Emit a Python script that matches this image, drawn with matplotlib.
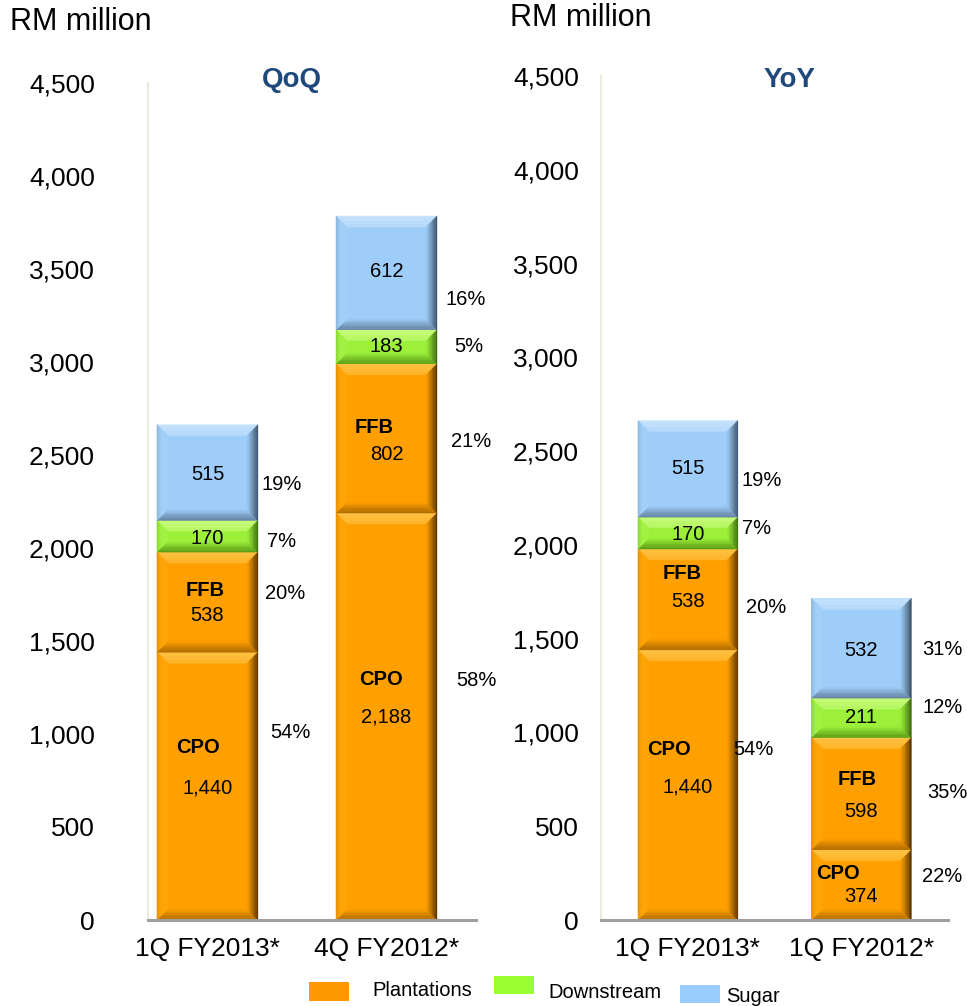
import matplotlib
matplotlib.use("Agg")
import matplotlib.pyplot as plt
from matplotlib.patches import Polygon, Rectangle
from matplotlib.colors import to_rgb
import numpy as np

plt.rcParams['font.family'] = ['Liberation Sans', 'DejaVu Sans']

# ---------------- data ----------------
segments = ["CPO", "FFB", "Downstream", "Sugar"]
qoq_categories = ["1Q FY2013*", "4Q FY2012*"]
qoq_values = {
    "CPO": [1440, 2188],
    "FFB": [538, 802],
    "Downstream": [170, 183],
    "Sugar": [515, 612],
}
qoq_pct = {
    "CPO": ["54%", "58%"],
    "FFB": ["20%", "21%"],
    "Downstream": ["7%", "5%"],
    "Sugar": ["19%", "16%"],
}
yoy_categories = ["1Q FY2013*", "1Q FY2012*"]
yoy_values = {
    "CPO": [1440, 374],
    "FFB": [538, 598],
    "Downstream": [170, 211],
    "Sugar": [515, 532],
}
yoy_pct = {
    "CPO": ["54%", "22%"],
    "FFB": ["20%", "35%"],
    "Downstream": ["7%", "12%"],
    "Sugar": ["19%", "31%"],
}
y_ticks = [0, 500, 1000, 1500, 2000, 2500, 3000, 3500, 4000, 4500]
legend_labels = ["Plantations", "Downstream", "Sugar"]

# ---------------- styles / layout ----------------
colors = {"CPO": "#FFA000", "FFB": "#FFA000", "Downstream": "#9CF03A", "Sugar": "#9DCDF8"}
# (top light, bottom dark, left, right dark)
bevel = {
    "CPO": ("#FFCB55", "#B06C00", "#FFA508", "#4A2C00"),
    "FFB": ("#FFCB55", "#B06C00", "#FFA508", "#4A2C00"),
    "Downstream": ("#D2FF8C", "#5C9C16", "#A2F244", "#36600C"),
    "Sugar": ("#D0E8FF", "#6683A2", "#A2D0F8", "#34485C"),
}
legend_colors = ["#FF9900", "#99FF33", "#99CCFF"]
W, H = 967, 1006
DPI = 100

# pct label offsets (px): dx from bar right edge, dy from segment middle (up +)
pct_off_qoq = {
    "Sugar": [(24, -12), (29, -27)],
    "Downstream": [(24, -5), (32, 0)],
    "FFB": [(27, 9), (34, -3)],
    "CPO": [(33, 54), (39, 36)],
}
pct_off_yoy = {
    "Sugar": [(24, -12), (31, -1)],
    "Downstream": [(19, 5), (31, 10)],
    "FFB": [(28, -8), (36, 1)],
    "CPO": [(16, 35), (31, 8)],
}
# inner label offsets: (value dx, value dy, name dx, name dy)
in_off_qoq = {
    "Sugar": [(0, -2), (0, 1)],
    "Downstream": [(0, -2), (0, 0)],
    "FFB": [(0, -13, -2, 12), (0, -16, -12, 11)],
    "CPO": [(0, -2, -9, 39), (0, 0, -5, 37)],
}
in_off_yoy = {
    "Sugar": [(0, 0), (0, -2)],
    "Downstream": [(0, -1), (0, 0)],
    "FFB": [(0, -2, -6, 26), (0, -18, -4, 14)],
    "CPO": [(0, -2, -19, 35), (0, -12, -23, 11)],
}

fig = plt.figure(figsize=(W / DPI, H / DPI), dpi=DPI)
fig.patch.set_facecolor("white")


def fax(x0, y_bottom_px, x1, y_top_px):
    return [x0 / W, (H - y_bottom_px) / H, (x1 - x0) / W, (y_bottom_px - y_top_px) / H]


ax1 = fig.add_axes(fax(148, 920, 476, 83))
ax2 = fig.add_axes(fax(601, 920, 948, 76))


def mix(c1, c2, t):
    a = np.array(to_rgb(c1))
    b = np.array(to_rgb(c2))
    return tuple(a + (b - a) * t)


def draw_bevel(ax, x0d, x1d, y0d, y1d, seg):
    tr = ax.transData
    inv = tr.inverted()
    (x0, y0) = tr.transform((x0d, y0d))
    (x1, y1) = tr.transform((x1d, y1d))
    h = y1 - y0
    b = min(11.0, h / 3.0)
    base = colors[seg]
    top, bot, left, right = bevel[seg]
    n = 8

    def add(pts, c):
        dp = inv.transform(np.array(pts))
        ax.add_patch(Polygon(dp, closed=True, facecolor=c, edgecolor=c,
                             linewidth=0.3, zorder=3))

    for k in range(n):
        d0 = b * k / n
        d1 = b * (k + 1) / n
        t = (k + 0.5) / n  # 0 outer -> 1 inner
        # top
        add([(x0 + d0, y1 - d0), (x1 - d0, y1 - d0), (x1 - d1, y1 - d1), (x0 + d1, y1 - d1)],
            mix(top, base, 0.15 + 0.35 * t))
        # bottom
        add([(x0 + d0, y0 + d0), (x1 - d0, y0 + d0), (x1 - d1, y0 + d1), (x0 + d1, y0 + d1)],
            mix(bot, base, t ** 1.2))
        # left
        add([(x0 + d0, y0 + d0), (x0 + d1, y0 + d1), (x0 + d1, y1 - d1), (x0 + d0, y1 - d0)],
            mix(mix(left, bot, 0.35), left, min(1, t * 2.5)))
        # right
        add([(x1 - d0, y0 + d0), (x1 - d1, y0 + d1), (x1 - d1, y1 - d1), (x1 - d0, y1 - d0)],
            mix(right, base, t ** 0.9))


def panel(ax, cats, values, pcts, xlim, width, pct_off, in_off, ylim_top, title, title_x):
    ax.set_xlim(*xlim)
    ax.set_ylim(0, ylim_top)
    x = np.arange(len(cats))
    bottoms = np.zeros(len(cats))
    for seg in segments:
        vals = np.array(values[seg], dtype=float)
        bars = ax.bar(x, vals, width, bottom=bottoms, color=colors[seg], edgecolor="none", zorder=2)
        for i, r in enumerate(bars):
            x0d = r.get_x()
            x1d = x0d + r.get_width()
            y0d = bottoms[i]
            y1d = bottoms[i] + vals[i]
            draw_bevel(ax, x0d, x1d, y0d, y1d, seg)
            mid = (y0d + y1d) / 2
            off = in_off[seg][i]
            ax.annotate(f"{int(vals[i]):,}", xy=(x[i], mid), xytext=(off[0], off[1]),
                        textcoords="offset pixels", ha="center", va="center",
                        fontsize=14.5, color="black", zorder=6)
            if seg in ("CPO", "FFB"):
                ax.annotate(seg, xy=(x[i], mid), xytext=(off[2], off[3]),
                            textcoords="offset pixels", ha="center", va="center",
                            fontsize=14.5, fontweight="bold", color="black", zorder=6)
            po = pct_off[seg][i]
            ax.annotate(pcts[seg][i], xy=(x1d, mid), xytext=(po[0], po[1]),
                        textcoords="offset pixels", ha="center", va="center",
                        fontsize=14.5, color="black", zorder=6, annotation_clip=False)
        bottoms = bottoms + vals
    ax.set_xticks(x)
    ax.set_xticklabels(cats, fontsize=19)
    ax.set_yticks(y_ticks)
    ax.set_yticklabels([f"{v:,}" for v in y_ticks], fontsize=19)
    ax.tick_params(axis="both", length=0)
    for s in ("top", "right"):
        ax.spines[s].set_visible(False)
    ax.spines["left"].set_color("#ECE9DF")
    ax.spines["left"].set_linewidth(1.5)
    ax.spines["bottom"].set_color("#A0A0A0")
    ax.spines["bottom"].set_linewidth(2.2)
    ax.spines["bottom"].set_zorder(5)
    ax.set_facecolor("none")
    fig.text(title_x / W, 1 - 80 / H, title, fontsize=20, fontweight="bold",
             color="#1F497D", ha="center", va="center")


panel(ax1, qoq_categories, qoq_values, qoq_pct, (-0.332, 1.5), 0.564,
      pct_off_qoq, in_off_qoq, 4500, "QoQ", 292)
ax1.tick_params(axis="y", pad=53 * 72 / DPI)
ax1.tick_params(axis="x", pad=12)

panel(ax2, yoy_categories, yoy_values, yoy_pct, (-0.501, 1.499), 0.576,
      pct_off_yoy, in_off_yoy, 4500, "YoY", 790)
ax2.tick_params(axis="y", pad=22 * 72 / DPI)
ax2.tick_params(axis="x", pad=12)

fig.text(10 / W, 1 - 22 / H, "RM million", fontsize=22, ha="left", va="center")
fig.text(510 / W, 1 - 18 / H, "RM million", fontsize=22, ha="left", va="center")

# legend (manual)
leg_boxes = [(309, 982, 349, 1001), (494, 976, 534, 994), (680, 985, 720, 1003)]
leg_text = [(372, 991), (548, 993), (726, 997)]
for (bx0, by0, bx1, by1), (tx, ty), c, lab in zip(leg_boxes, leg_text, legend_colors, legend_labels):
    fig.patches.append(Rectangle((bx0 / W, 1 - by1 / H), (bx1 - bx0) / W, (by1 - by0) / H,
                                 transform=fig.transFigure, facecolor=c, edgecolor="none"))
    fig.text(tx / W, 1 - ty / H, lab, fontsize=14.5, ha="left", va="center")

fig.savefig("out.png", dpi=DPI)
